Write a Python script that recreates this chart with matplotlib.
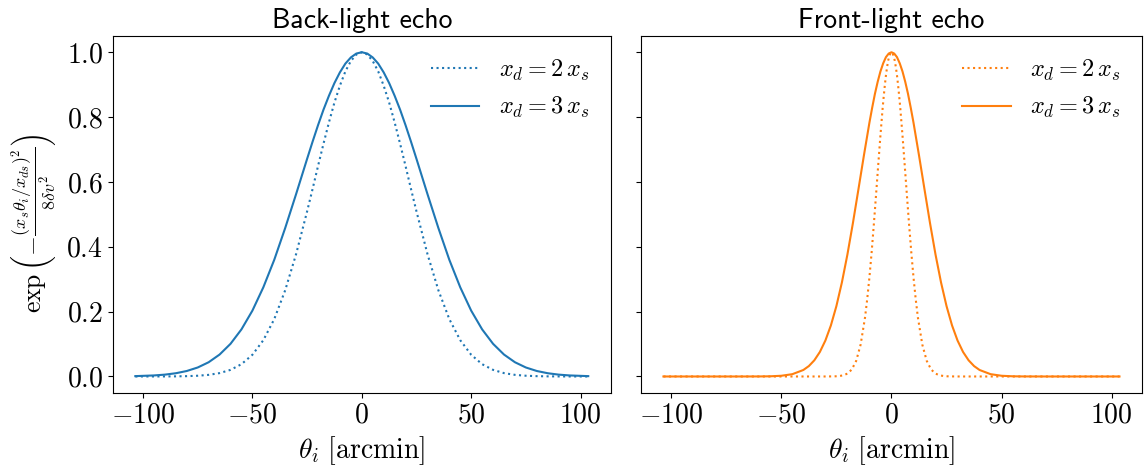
import matplotlib
matplotlib.use("Agg")
import matplotlib.pyplot as plt

# ---- data ----
# Back-light echo (both series sampled at the same angles)
back_x = [-103.5, -95, -90, -85, -80, -75, -70, -65, -60, -55, -50, -45, -40, -35, -30, -25, -22.5, -20, -17.5,
          -15, -12.5, -10, -7.5, -5, -2.5, 0, 2.5, 5, 7.5, 10, 12.5, 15, 17.5, 20, 22.5, 25, 30, 35, 40, 45, 50,
          55, 60, 65, 70, 75, 80, 85, 90, 95, 103.5]
back_y3 = [0.0011, 0.0032, 0.0057, 0.0100, 0.0169, 0.0277, 0.0439, 0.0676, 0.1007, 0.1453, 0.203, 0.275, 0.360,
           0.458, 0.563, 0.671, 0.724, 0.775, 0.823, 0.866, 0.905, 0.938, 0.965, 0.984, 0.996, 1.0,
           0.996, 0.984, 0.965, 0.938, 0.905, 0.866, 0.823, 0.775, 0.724, 0.671, 0.563, 0.458, 0.360, 0.275,
           0.203, 0.1453, 0.1007, 0.0676, 0.0439, 0.0277, 0.0169, 0.0100, 0.0057, 0.0032, 0.0011]
back_y2 = [0.00001, 0.00006, 0.00016, 0.0004, 0.0010, 0.0023, 0.0050, 0.0104, 0.0204, 0.0379, 0.0669, 0.1119,
           0.177, 0.266, 0.378, 0.509, 0.578, 0.649, 0.718, 0.784, 0.845, 0.897, 0.941, 0.973, 0.993, 1.0,
           0.993, 0.973, 0.941, 0.897, 0.845, 0.784, 0.718, 0.649, 0.578, 0.509, 0.378, 0.266, 0.177, 0.1119,
           0.0669, 0.0379, 0.0204, 0.0104, 0.0050, 0.0023, 0.0010, 0.0004, 0.00016, 0.00006, 0.00001]

# Front-light echo
front_x3 = [-103.5, -70, -60, -55, -50, -45, -40, -37.5, -35, -32.5, -30, -27.5, -25, -22.5, -20, -17.5, -15,
            -12.5, -10, -8.75, -7.5, -6.25, -5, -3.75, -2.5, -1.25, 0, 1.25, 2.5, 3.75, 5, 6.25, 7.5, 8.75, 10,
            12.5, 15, 17.5, 20, 22.5, 25, 27.5, 30, 32.5, 35, 37.5, 40, 45, 50, 55, 60, 70, 103.5]
front_y3 = [0.0, 0.0, 0.00015, 0.0006, 0.0022, 0.0071, 0.0200, 0.0321, 0.0500, 0.0756, 0.1108, 0.1574, 0.217,
            0.290, 0.376, 0.473, 0.577, 0.682, 0.783, 0.829, 0.872, 0.909, 0.941, 0.966, 0.985, 0.996, 1.0,
            0.996, 0.985, 0.966, 0.941, 0.909, 0.872, 0.829, 0.783, 0.682, 0.577, 0.473, 0.376, 0.290, 0.217,
            0.1574, 0.1108, 0.0756, 0.0500, 0.0321, 0.0200, 0.0071, 0.0022, 0.0006, 0.00015, 0.0, 0.0]
front_x2 = [-103.5, -40, -30, -26, -24, -22, -20, -18, -16, -14, -12, -11, -10, -9, -8, -7, -6, -5, -4, -3.5,
            -3, -2.5, -2, -1.5, -1, -0.5, 0, 0.5, 1, 1.5, 2, 2.5, 3, 3.5, 4, 5, 6, 7, 8, 9, 10, 11, 12, 14, 16,
            18, 20, 22, 24, 26, 30, 40, 103.5]
front_y2 = [0.0, 0.0, 0.00002, 0.00034, 0.0011, 0.0033, 0.0088, 0.0216, 0.0483, 0.0983, 0.182, 0.239, 0.306,
            0.383, 0.469, 0.560, 0.653, 0.744, 0.828, 0.865, 0.899, 0.929, 0.954, 0.974, 0.988, 0.997, 1.0,
            0.997, 0.988, 0.974, 0.954, 0.929, 0.899, 0.865, 0.828, 0.744, 0.653, 0.560, 0.469, 0.383, 0.306,
            0.239, 0.182, 0.0983, 0.0483, 0.0216, 0.0088, 0.0033, 0.0011, 0.00034, 0.00002, 0.0, 0.0]

titles = ["Back-light echo", "Front-light echo"]
labels = [r"$x_d = 2\,x_s$", r"$x_d = 3\,x_s$"]
colors = ["#1f77b4", "#ff7f0e"]

plt.rcParams["font.family"] = "cmr10"
plt.rcParams["mathtext.fontset"] = "cm"
plt.rcParams["axes.formatter.use_mathtext"] = True
plt.rcParams["axes.unicode_minus"] = True

fig = plt.figure(figsize=(11.44, 4.65), dpi=100)
ax1 = fig.add_axes([0.0985, 0.1555, 0.4355, 0.767])
ax2 = fig.add_axes([0.560, 0.1555, 0.4385, 0.767], sharey=ax1)

series = [((back_x, back_y2), (back_x, back_y3)), ((front_x2, front_y2), (front_x3, front_y3))]
for ax, (s2, s3), title, c in zip([ax1, ax2], series, titles, colors):
    ax.plot(s2[0], s2[1], linestyle=":", color=c, lw=1.5, label=labels[0])
    ax.plot(s3[0], s3[1], linestyle="-", color=c, lw=1.5, label=labels[1])
    ax.set_title(title, fontsize=20, family="cmss10", pad=6)
    ax.set_xlabel(r"$\theta_i\ [\mathrm{arcmin}]$", fontsize=20, labelpad=4)
    ax.tick_params(labelsize=20)
    ax.set_xticks([-100, -50, 0, 50, 100])
    ax.legend(loc="upper right", frameon=False, fontsize=17.5, handlelength=2.0)

ax1.set_yticks([0.0, 0.2, 0.4, 0.6, 0.8, 1.0])
ax1.set_ylabel(r"$\exp\left(-\frac{(x_s\theta_i/x_{ds})^2}{8\delta v^2}\right)$", fontsize=18.5)
ax1.yaxis.set_label_coords(-0.107, 0.475)
plt.setp(ax2.get_yticklabels(), visible=False)

fig.savefig("out.png", dpi=100)
